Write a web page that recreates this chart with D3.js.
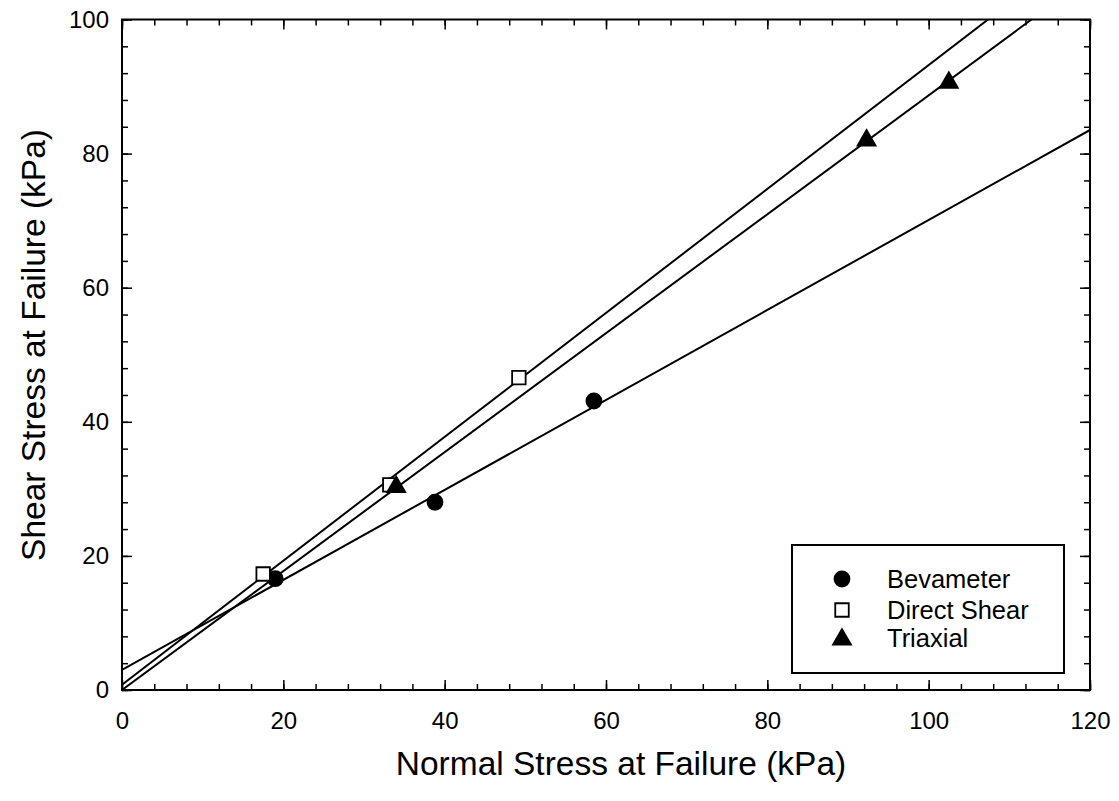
<!DOCTYPE html>
<html>
<head>
<meta charset="utf-8">
<script src="https://cdn.jsdelivr.net/npm/d3@7"></script>
<style>
  body { margin: 0; background: #fff; }
  svg text { font-family: "Liberation Sans", Arial, sans-serif; fill: #000; }
</style>
</head>
<body>
<div id="chart"></div>
<script>
"use strict"

// ---------------- data ----------------
const seriesNames = ["Bevameter", "Direct Shear", "Triaxial"];
const bevNormal = [19.0, 38.8, 58.5];
const bevShear = [16.6, 28.0, 43.1];
const dsNormal = [17.5, 33.2, 49.2];
const dsShear = [17.3, 30.6, 46.6];
const triNormal = [34.0, 92.3, 102.5];
const triShear = [30.5, 82.2, 90.8];
// fitted failure envelopes: shear = intercept + slope * normal
const fitIntercepts = [3.0, 0.8, 0.0];
const fitSlopes = [0.671, 0.924, 0.887];
const xTicks = [0, 20, 40, 60, 80, 100, 120];
const yTicks = [0, 20, 40, 60, 80, 100];

// ---------------- layout ----------------
const W = 1119, H = 801;
const m = {left: 122, top: 19.5, right: 29, bottom: 111};
const w = W - m.left - m.right;
const h = H - m.top - m.bottom;

const svg = d3.select("#chart").append("svg")
    .attr("width", W)
    .attr("height", H);

const g = svg.append("g").attr("transform", `translate(${m.left},${m.top})`);

const x = d3.scaleLinear().domain([0, 120]).range([0, w]);
const y = d3.scaleLinear().domain([0, 100]).range([h, 0]);

// clip for the fit lines
svg.append("defs").append("clipPath").attr("id", "plotclip")
    .append("rect").attr("width", w).attr("height", h);

// ---------------- axes (ticks inward, on all four sides) ----------------
const minorX = d3.range(0, 121, 4);
const minorY = d3.range(0, 101, 4);
const axisStyle = sel => {
    sel.select(".domain").remove();
    sel.selectAll("line").attr("stroke", "#000").attr("stroke-width", 1.5);
    sel.selectAll("text").attr("font-size", 24);
};

g.append("g").attr("transform", `translate(0,${h})`)
    .call(d3.axisBottom(x).tickValues(minorX).tickSizeInner(-6).tickFormat(""))
    .call(axisStyle);
g.append("g").attr("transform", `translate(0,${h})`)
    .call(d3.axisBottom(x).tickValues(xTicks).tickSizeInner(-10).tickPadding(22).tickFormat(d3.format("d")))
    .call(axisStyle);
g.append("g")
    .call(d3.axisTop(x).tickValues(minorX).tickSizeInner(-6).tickFormat(""))
    .call(axisStyle);
g.append("g")
    .call(d3.axisTop(x).tickValues(xTicks).tickSizeInner(-10).tickFormat(""))
    .call(axisStyle);

g.append("g")
    .call(d3.axisLeft(y).tickValues(minorY).tickSizeInner(-6).tickFormat(""))
    .call(axisStyle);
g.append("g")
    .call(d3.axisLeft(y).tickValues(yTicks).tickSizeInner(-10).tickPadding(13).tickFormat(d3.format("d")))
    .call(axisStyle);
g.append("g").attr("transform", `translate(${w},0)`)
    .call(d3.axisRight(y).tickValues(minorY).tickSizeInner(-6).tickFormat(""))
    .call(axisStyle);
g.append("g").attr("transform", `translate(${w},0)`)
    .call(d3.axisRight(y).tickValues(yTicks).tickSizeInner(-10).tickFormat(""))
    .call(axisStyle);

// frame
g.append("rect")
    .attr("width", w).attr("height", h)
    .attr("fill", "none").attr("stroke", "#000").attr("stroke-width", 2);

// axis titles
svg.append("text")
    .attr("x", 621).attr("y", 775)
    .attr("text-anchor", "middle").attr("font-size", 33.5)
    .text("Normal Stress at Failure (kPa)");
svg.append("text")
    .attr("transform", "translate(45,345) rotate(-90)")
    .attr("text-anchor", "middle").attr("font-size", 33.5)
    .text("Shear Stress at Failure (kPa)");

// ---------------- fit lines ----------------
const lineGen = d3.line().x(d => x(d[0])).y(d => y(d[1]));
const lines = g.append("g").attr("clip-path", "url(#plotclip)");
fitIntercepts.forEach((b, i) => {
    const pts = [0, 120].map(v => [v, b + fitSlopes[i] * v]);
    lines.append("path")
        .attr("d", lineGen(pts))
        .attr("fill", "none").attr("stroke", "#000").attr("stroke-width", 2);
});

// ---------------- markers ----------------
const circle = d3.symbol().type(d3.symbolCircle).size(Math.PI * 7.5 * 7.5);
const square = d3.symbol().type(d3.symbolSquare).size(13.5 * 13.5);
const triangle = d3.symbol().type(d3.symbolTriangle).size(140);

const series = [
    {x: bevNormal, y: bevShear, sym: circle, fill: "#000", dy: 0},
    {x: dsNormal, y: dsShear, sym: square, fill: "#fff", dy: 0},
    {x: triNormal, y: triShear, sym: triangle, fill: "#000", dy: 1.5}
];

series.forEach(s => {
    g.append("g").selectAll("path")
        .data(d3.zip(s.x, s.y))
        .join("path")
        .attr("transform", d => `translate(${x(d[0])},${y(d[1]) + s.dy})`)
        .attr("d", s.sym())
        .attr("fill", s.fill)
        .attr("stroke", "#000").attr("stroke-width", 1.8);
});

// ---------------- legend ----------------
const legend = svg.append("g").attr("transform", "translate(792,545)");
legend.append("rect")
    .attr("width", 272).attr("height", 128)
    .attr("fill", "#fff").attr("stroke", "#000").attr("stroke-width", 2);

const rowY = [34, 65, 93];
seriesNames.forEach((name, i) => {
    legend.append("path")
        .attr("transform", `translate(50,${rowY[i] + series[i].dy})`)
        .attr("d", series[i].sym())
        .attr("fill", series[i].fill)
        .attr("stroke", "#000").attr("stroke-width", 1.8);
    legend.append("text")
        .attr("x", 95).attr("y", rowY[i])
        .attr("dy", "0.35em")
        .attr("font-size", 25.5)
        .text(name);
});
</script>
</body>
</html>
